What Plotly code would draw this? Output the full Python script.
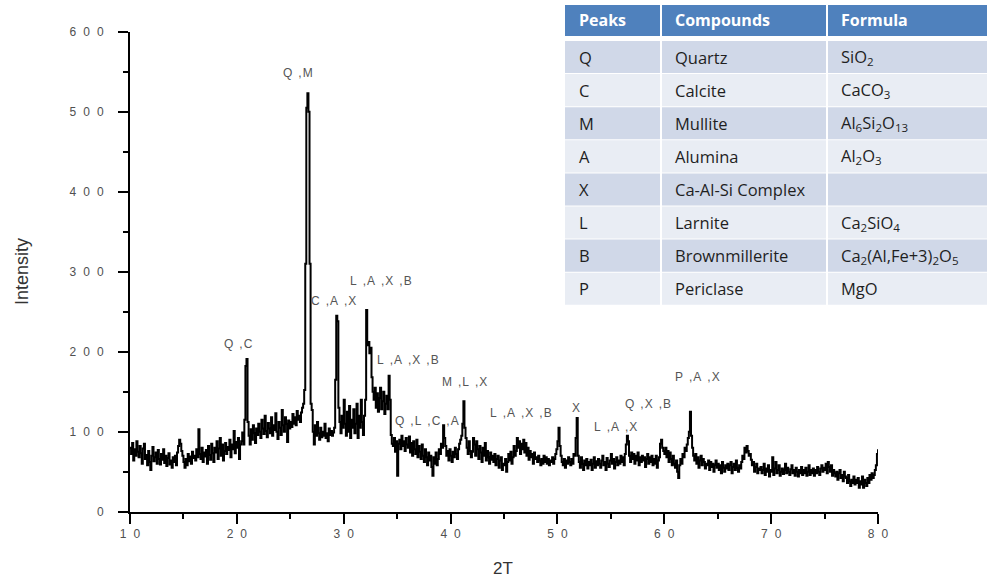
import numpy as np
import plotly.graph_objects as go

# XRD scan: 2-theta from 10 to 80 deg, 0.1 deg step
scan_start = 10.0
scan_step = 0.1

counts_10_20 = [
    80, 72, 86, 64, 78, 70, 88, 75, 68, 82,
    73, 60, 79, 85, 66, 71, 58, 76, 62, 52,
    70, 81, 63, 68, 74, 60, 77, 66, 59, 72,
    65, 78, 61, 70, 57, 67, 73, 59, 64, 55,
    68, 62, 70, 58, 74, 82, 90, 85, 76, 70,
    62, 55, 66, 58, 72, 63, 69, 60, 75, 67,
    70, 64, 78, 68, 103, 72, 66, 80, 62, 74,
    69, 77, 60, 82, 71, 65, 85, 73, 62, 80,
    74, 88, 66, 79, 92, 70, 84, 64, 76, 86,
    72, 81, 77, 90, 68, 84, 78, 101, 73, 87,
]
counts_20_30 = [
    80, 92, 66, 84, 88, 99, 84, 115, 182, 191,
    112, 95, 84, 103, 90, 108, 98, 86, 104, 96,
    110, 100, 92, 115, 104, 97, 120, 101, 93, 111,
    104, 98, 118, 95, 108, 102, 123, 100, 91, 112,
    105, 96, 127, 108, 100, 118, 110, 87, 114, 104,
    112, 106, 122, 110, 118, 108, 126, 115, 120, 112,
    124, 130, 135, 152, 310, 505, 523, 500, 310, 135,
    127, 100, 84, 108, 95, 112, 98, 90, 105, 93,
    100, 95, 110, 92, 98, 88, 104, 96, 101, 95,
    99, 105, 165, 245, 238, 130, 112, 98, 120, 105,
]
counts_30_40 = [
    140, 110, 95, 125, 100, 132, 92, 115, 105, 128,
    98, 110, 135, 92, 120, 105, 140, 112, 96, 120,
    140, 252, 208, 212, 198, 205, 168, 150, 140, 155,
    130, 148, 125, 142, 155, 128, 138, 150, 122, 135,
    145, 128, 170, 140, 96, 85, 82, 92, 75, 88,
    45, 85, 90, 78, 95, 82, 88, 76, 92, 84,
    80, 94, 74, 86, 70, 88, 78, 72, 90, 68,
    82, 75, 66, 84, 70, 62, 78, 68, 58, 74,
    64, 70, 56, 45, 68, 60, 74, 58, 66, 78,
    72, 85, 80, 108, 92, 82, 70, 76, 64, 78,
]
counts_40_50 = [
    70, 62, 75, 68, 80, 72, 66, 78, 85, 90,
    95, 110, 138, 105, 92, 80, 72, 88, 76, 68,
    75, 92, 84, 70, 88, 78, 66, 82, 74, 62,
    80, 70, 86, 64, 76, 68, 60, 74, 65, 70,
    62, 72, 58, 66, 70, 55, 64, 68, 52, 60,
    58, 66, 50, 62, 72, 64, 75, 60, 68, 82,
    70, 76, 92, 80, 88, 72, 85, 78, 90, 74,
    86, 70, 80, 65, 76, 68, 72, 60, 74, 66,
    68, 62, 70, 64, 58, 66, 60, 70, 62, 68,
    60, 66, 58, 64, 62, 68, 60, 66, 72, 78,
]
counts_50_60 = [
    88, 105, 82, 70, 62, 58, 66, 55, 64, 60,
    68, 62, 58, 66, 60, 72, 70, 92, 117, 70,
    62, 55, 68, 60, 52, 64, 58, 66, 54, 62,
    58, 65, 52, 60, 68, 55, 63, 58, 66, 60,
    55, 64, 70, 58, 62, 52, 67, 60, 56, 64,
    72, 60, 66, 54, 62, 68, 58, 64, 60, 70,
    62, 68, 58, 72, 84, 95, 88, 70, 62, 74,
    66, 72, 60, 70, 64, 74, 58, 68, 62, 70,
    64, 68, 56, 66, 72, 60, 68, 62, 70, 58,
    66, 60, 70, 55, 64, 68, 85, 90, 80, 76,
]
counts_60_70 = [
    72, 80, 68, 76, 62, 74, 66, 58, 70, 60,
    55, 64, 50, 42, 58, 66, 60, 72, 68, 80,
    76, 84, 92, 100, 125, 95, 80, 70, 64, 72,
    60, 68, 55, 64, 70, 58, 66, 62, 54, 60,
    58, 64, 52, 62, 56, 60, 50, 58, 64, 55,
    60, 52, 58, 48, 62, 55, 50, 58, 54, 60,
    52, 58, 62, 48, 56, 60, 52, 64, 55, 50,
    58, 54, 62, 70, 66, 80, 74, 82, 76, 70,
    72, 65, 58, 62, 50, 56, 60, 48, 54, 52,
    56, 48, 52, 60, 46, 54, 50, 58, 44, 52,
]
counts_70_80 = [
    50, 68, 46, 54, 62, 48, 52, 58, 45, 50,
    54, 47, 52, 60, 48, 55, 50, 46, 53, 58,
    48, 52, 45, 55, 50, 44, 52, 48, 56, 46,
    52, 48, 55, 45, 50, 58, 46, 52, 48, 54,
    45, 52, 48, 56, 50, 46, 54, 58, 50, 55,
    52, 60, 48, 62, 56, 50, 58, 45, 52, 48,
    44, 50, 40, 48, 52, 42, 46, 38, 50, 44,
    42, 36, 46, 38, 32, 40, 36, 44, 34, 40,
    36, 42, 30, 38, 34, 44, 30, 40, 36, 32,
    42, 36, 46, 40, 48, 42, 46, 52, 58, 72,
    78,
]

intensity = (counts_10_20 + counts_20_30 + counts_30_40 + counts_40_50
             + counts_50_60 + counts_60_70 + counts_70_80)
two_theta = np.round(scan_start + scan_step * np.arange(len(intensity)), 1)

# Phase assignments written above the reflections (2-theta, intensity)
peak_labels = ["Q ,C", "Q ,M", "C ,A ,X", "L ,A ,X ,B", "L ,A ,X ,B", "Q ,L ,C ,A",
               "M ,L ,X", "L ,A ,X ,B", "X", "L ,A ,X", "Q ,X ,B", "P ,A ,X"]
label_x = [20.2, 25.72, 29.0, 33.49, 36.0, 37.79, 41.26, 46.59, 51.74, 55.48, 58.47, 63.13]
label_y = [210, 548, 264, 289, 190, 113, 162, 123, 130, 106, 135, 168]

# Phase key table
table_header = ["Peaks", "Compounds", "Formula"]
peaks_col = ["Q", "C", "M", "A", "X", "L", "B", "P"]
compounds_col = ["Quartz", "Calcite", "Mullite", "Alumina", "Ca-Al-Si Complex",
                 "Larnite", "Brownmillerite", "Periclase"]
formula_col = ["SiO<sub>2</sub>", "CaCO<sub>3</sub>", "Al<sub>6</sub>Si<sub>2</sub>O<sub>13</sub>",
               "Al<sub>2</sub>O<sub>3</sub>", "", "Ca<sub>2</sub>SiO<sub>4</sub>",
               "Ca<sub>2</sub>(Al,Fe+3)<sub>2</sub>O<sub>5</sub>", "MgO"]

yticks = [0, 100, 200, 300, 400, 500, 600]
xticks = [10, 20, 30, 40, 50, 60, 70, 80]

W, H = 987, 582
SPACE = "\u2002\u200a"


def spaced(s):
    return SPACE.join(str(s))


tick_font = dict(family="Liberation Sans, Arial", size=12, color="#505050")

fig = go.Figure()
fig.add_trace(go.Scatter(
    x=two_theta, y=intensity, mode="lines",
    line=dict(color="black", width=2.0, shape="hv"),
    showlegend=False, hoverinfo="skip",
))

for t, lx, ly in zip(peak_labels, label_x, label_y):
    txt = t.replace(" ,", "\u2002,\u200a")
    fig.add_annotation(x=lx, y=ly, text=txt, showarrow=False,
                       font=dict(family="Liberation Sans, Arial", size=12, color="#555555"),
                       xanchor="center", yanchor="middle")

# Key table drawn from shapes and text, in pixel layout
col_edges = [565, 661, 827, 990]
header_top, header_bot = 5, 36
body_top, row_h = 40.5, 33.1
row_colors = ["#D0D8E8", "#E9EDF4"]


def px(x):
    return x / W


def py(y):
    return 1 - y / H


shapes = []
annos = []
for c in range(3):
    x0, x1 = col_edges[c] + (1 if c else 0), col_edges[c + 1] - 1
    shapes.append(dict(type="rect", xref="paper", yref="paper",
                       x0=px(x0), x1=px(x1), y0=py(header_bot), y1=py(header_top),
                       fillcolor="#4F81BD", line=dict(width=0), layer="above"))
    annos.append(dict(xref="paper", yref="paper", x=px(col_edges[c] + 12),
                      y=py((header_top + header_bot) / 2), text="<b>%s</b>" % table_header[c],
                      showarrow=False, xanchor="left", yanchor="middle",
                      font=dict(family="Open Sans", size=16, color="white")))
columns = [peaks_col, compounds_col, formula_col]
for r in range(len(peaks_col)):
    y0 = body_top + r * row_h
    y1 = y0 + row_h
    for c in range(3):
        x0, x1 = col_edges[c] + (1 if c else 0), col_edges[c + 1] - 1
        shapes.append(dict(type="rect", xref="paper", yref="paper",
                           x0=px(x0), x1=px(x1), y0=py(y1 - 0.5), y1=py(y0 + 0.5),
                           fillcolor=row_colors[r % 2], line=dict(width=0), layer="above"))
        if columns[c][r]:
            annos.append(dict(xref="paper", yref="paper", x=px(col_edges[c] + 12),
                              y=py((y0 + y1) / 2), text=columns[c][r],
                              showarrow=False, xanchor="left", yanchor="middle",
                              font=dict(family="Open Sans", size=16.5, color="#1f1f1f")))

# Axis titles
annos.append(dict(xref="paper", yref="paper", x=px(22), y=py(272), text="Intensity",
                  textangle=-90, showarrow=False, xanchor="center", yanchor="middle",
                  font=dict(family="Liberation Sans, Arial", size=18, color="#333333")))
annos.append(dict(xref="paper", yref="paper", x=px(503), y=py(568), text="2T",
                  showarrow=False, xanchor="center", yanchor="middle",
                  font=dict(family="Liberation Sans, Arial", size=17, color="#333333")))

fig.update_layout(
    width=W, height=H,
    margin=dict(l=0, r=0, t=0, b=0, autoexpand=False),
    paper_bgcolor="white", plot_bgcolor="white",
    showlegend=False,
    shapes=shapes,
    xaxis=dict(
        domain=[130 / W, 878 / W], range=[10, 80], automargin=False,
        tickvals=xticks, ticktext=[spaced(v) for v in xticks],
        ticks="outside", ticklen=10, tickwidth=1.5, tickcolor="black",
        showline=True, linecolor="black", linewidth=2,
        showgrid=False, zeroline=False, tickfont=tick_font,
        minor=dict(dtick=5, tick0=10, ticks="outside", ticklen=5, tickwidth=1.5,
                   tickcolor="black", showgrid=False),
    ),
    yaxis=dict(
        domain=[1 - 511.7 / H, 1 - 31.7 / H], range=[0, 600], automargin=False,
        tickvals=yticks, ticktext=[spaced(v) for v in yticks],
        ticks="outside", ticklen=10, tickwidth=1.5, tickcolor="black",
        showline=True, linecolor="black", linewidth=2,
        showgrid=False, zeroline=False, tickfont=tick_font,
        ticklabelstandoff=12,
        minor=dict(dtick=50, tick0=0, ticks="outside", ticklen=5, tickwidth=1.5,
                   tickcolor="black", showgrid=False),
    ),
)
for a in annos:
    fig.add_annotation(**a)

fig.write_html("out.html")
